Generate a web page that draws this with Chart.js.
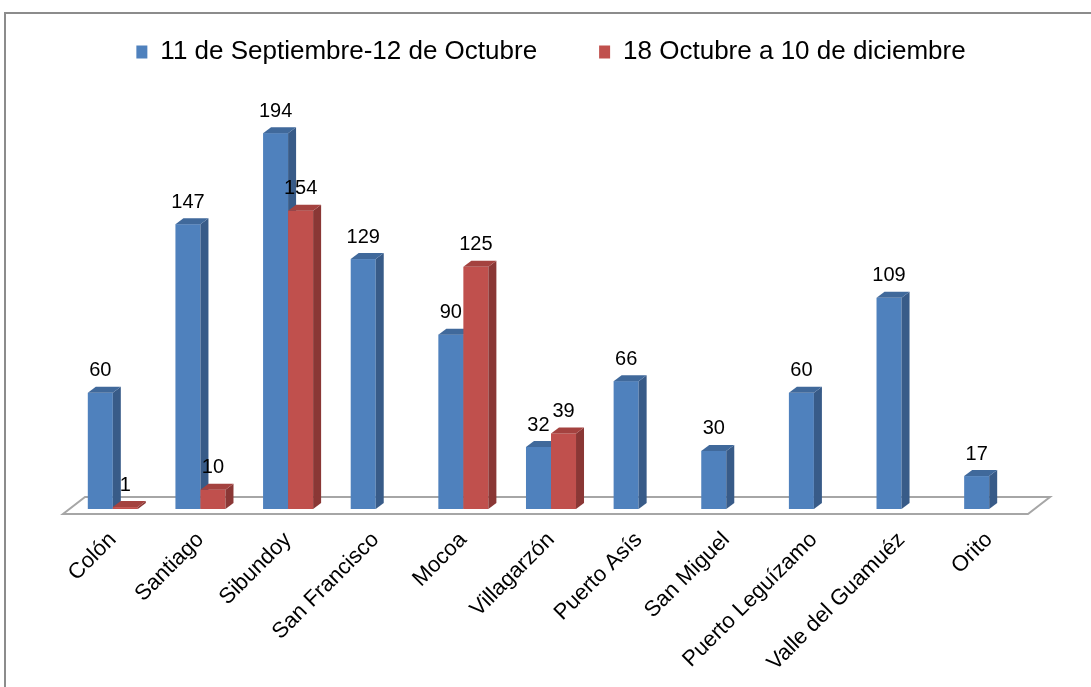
<!DOCTYPE html>
<html>
<head>
<meta charset="utf-8">
<script src="https://cdn.jsdelivr.net/npm/chart.js@4.4.0/dist/chart.umd.min.js"></script>
<style>
    html, body { margin: 0; padding: 0; background: #fff; overflow: hidden; }
    #frame {
        position: absolute; left: 4px; top: 12px;
        width: 1200px; height: 800px;
        border: 2px solid #8c8c8c;
    }
    #wrap { position: absolute; left: 0; top: 0; width: 1091px; height: 687px; }
</style>
</head>
<body>
<div id="frame"></div>
<div id="wrap"><canvas id="barChart" width="1091" height="687"></canvas></div>
<script>
// Datos del gráfico
const categories = ['Colón', 'Santiago', 'Sibundoy', 'San Francisco', 'Mocoa', 'Villagarzón',
    'Puerto Asís', 'San Miguel', 'Puerto Leguízamo', 'Valle del Guamuéz', 'Orito'];
const seriesNames = ['11 de Septiembre-12 de Octubre', '18 Octubre a 10 de diciembre'];
const periodo1 = [60, 147, 194, 129, 90, 32, 66, 30, 60, 109, 17];
const periodo2 = [1, 10, 154, null, 125, 39, null, null, null, null, null];

// colores: frente, lado, tapa
const blueFaces = ['#4f81bd', '#385b88', '#40699b'];
const redFaces = ['#c0504d', '#8a3735', '#a4423f'];
const DX = 8, DY = 6; // profundidad 3D

// Plugin que dibuja el piso y las barras en "3D" usando la geometría de Chart.js
const bars3d = {
    id: 'bars3d',
    beforeDatasetsDraw(chart) {
        const ctx = chart.ctx;
        const area = chart.chartArea;
        const b = area.bottom;

        // piso
        ctx.save();
        ctx.beginPath();
        ctx.moveTo(area.left - 6, b + 5);
        ctx.lineTo(area.right - 5, b + 5);
        ctx.lineTo(area.right + 17, b - 12);
        ctx.lineTo(area.left + 16, b - 12);
        ctx.closePath();
        ctx.fillStyle = '#ffffff';
        ctx.fill();
        ctx.lineWidth = 2;
        ctx.strokeStyle = '#a6a6a6';
        ctx.stroke();
        ctx.restore();

        const metas = [chart.getDatasetMeta(0), chart.getDatasetMeta(1)];
        const faces = [blueFaces, redFaces];

        for (let i = 0; i < categories.length; i++) {
            metas.forEach((meta, d) => {
                const value = chart.data.datasets[d].data[i];
                if (value === null || value === undefined) return;
                const bar = meta.data[i];
                const { x, y, base, width } = bar.getProps(['x', 'y', 'base', 'width'], true);
                const l = x - width / 2, r = x + width / 2;
                const [front, side, top] = faces[d];

                ctx.save();
                // frente
                ctx.fillStyle = front;
                ctx.fillRect(l, y, width, base - y);
                // lado
                ctx.beginPath();
                ctx.moveTo(r, y);
                ctx.lineTo(r + DX, y - DY);
                ctx.lineTo(r + DX, base - DY);
                ctx.lineTo(r, base);
                ctx.closePath();
                ctx.fillStyle = side;
                ctx.fill();
                // tapa
                ctx.beginPath();
                ctx.moveTo(l, y);
                ctx.lineTo(l + DX, y - DY);
                ctx.lineTo(r + DX, y - DY);
                ctx.lineTo(r, y);
                ctx.closePath();
                ctx.fillStyle = top;
                ctx.fill();

                // etiqueta de valor
                ctx.fillStyle = '#000';
                ctx.font = '20px "Liberation Sans", Arial, sans-serif';
                ctx.textAlign = 'center';
                ctx.textBaseline = 'middle';
                ctx.fillText(String(value), x, y - 22);
                ctx.restore();
            });
        }
        return false; // ya dibujamos las barras
    }
};

function renderChart() {
    const ctx = document.getElementById('barChart').getContext('2d');

    new Chart(ctx, {
        type: 'bar',
        data: {
            labels: categories,
            datasets: [{
                label: seriesNames[0],
                data: periodo1,
                backgroundColor: blueFaces[0]
            }, {
                label: seriesNames[1],
                data: periodo2,
                backgroundColor: redFaces[0]
            }]
        },
        options: {
            responsive: false,
            animation: false,
            categoryPercentage: 0.571,
            barPercentage: 1.0,
            layout: {
                padding: { top: -23, left: 69, right: 58, bottom: 0 }
            },
            scales: {
                x: {
                    grid: { display: false },
                    border: { display: false },
                    ticks: {
                        color: '#000',
                        autoSkip: false,
                        minRotation: 45,
                        maxRotation: 45,
                        padding: 10,
                        font: { family: '"Liberation Sans", Arial, sans-serif', size: 22 }
                    },
                    afterFit: scale => { scale.height = 178; }
                },
                y: {
                    display: false,
                    min: 0,
                    max: 224
                }
            },
            plugins: {
                legend: {
                    display: true,
                    position: 'top',
                    labels: {
                        color: '#000',
                        boxWidth: 11,
                        boxHeight: 13,
                        padding: 62,
                        font: { family: '"Liberation Sans", Arial, sans-serif', size: 26 }
                    }
                },
                tooltip: { enabled: false }
            }
        },
        plugins: [bars3d]
    });
}

window.onload = function() {
    renderChart();
};
</script>
</body>
</html>
